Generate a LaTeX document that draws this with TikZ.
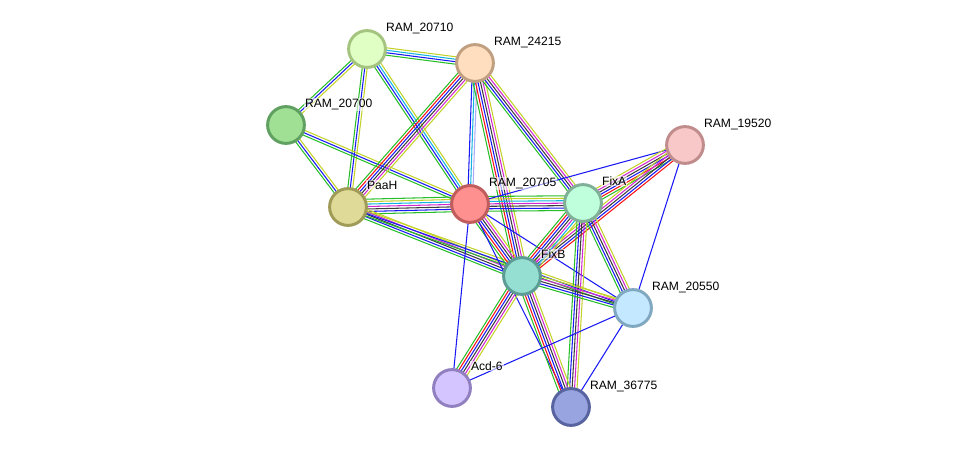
\documentclass[tikz,border=0pt]{standalone}
\usepackage{fontspec}
\setmainfont{Liberation Sans}
\usetikzlibrary{calc, backgrounds}
% evidence channels
\definecolor{evGreen}{RGB}{40, 190, 40}
\definecolor{evRed}{RGB}{250, 20, 20}
\definecolor{evBlue}{RGB}{25, 25, 245}
\definecolor{evBlack}{RGB}{60, 60, 60}
\definecolor{evMagenta}{RGB}{210, 40, 210}
\definecolor{evCyan}{RGB}{20, 180, 225}
\definecolor{evYellow}{RGB}{195, 210, 40}
\definecolor{evLilac}{RGB}{170, 170, 250}
% proteins
\definecolor{fA}{RGB}{224, 255, 196}\definecolor{bA}{RGB}{164, 196, 128}
\definecolor{fB}{RGB}{255, 222, 192}\definecolor{bB}{RGB}{192, 160, 128}
\definecolor{fC}{RGB}{160, 224, 148}\definecolor{bC}{RGB}{96, 160, 96}
\definecolor{fD}{RGB}{224, 218, 152}\definecolor{bD}{RGB}{160, 156, 88}
\definecolor{fE}{RGB}{255, 144, 144}\definecolor{bE}{RGB}{192, 92, 92}
\definecolor{fF}{RGB}{192, 255, 220}\definecolor{bF}{RGB}{128, 176, 152}
\definecolor{fG}{RGB}{248, 200, 200}\definecolor{bG}{RGB}{192, 140, 140}
\definecolor{fH}{RGB}{148, 222, 210}\definecolor{bH}{RGB}{92, 156, 148}
\definecolor{fI}{RGB}{196, 232, 255}\definecolor{bI}{RGB}{128, 168, 192}
\definecolor{fJ}{RGB}{212, 196, 255}\definecolor{bJ}{RGB}{144, 128, 192}
\definecolor{fK}{RGB}{152, 164, 224}\definecolor{bK}{RGB}{88, 100, 160}

\def\gap{1.75}
% parallel coloured lines between two proteins
\newcommand{\linkset}[3]{%
  \foreach \col [count=\n] in {#3} {\global\let\nlinks\n}
  \foreach \col [count=\i] in {#3} {
    \pgfmathsetmacro{\off}{(\i-(\nlinks+1)/2)*\gap}
    \draw[link, \col] ($(#1.center)!\off pt!90:(#2.center)$) -- ($(#2.center)!\off pt!-90:(#1.center)$);
  }%
}

\begin{document}
\begin{tikzpicture}[
    x=0.025cm, y=-0.025cm,
    prot/.style={circle, draw, line width=2.1pt, minimum size=0.92cm, inner sep=0pt},
    lbl/.style={anchor=base west, inner sep=0.6pt, font=\fontsize{8.6}{10}\selectfont, fill=white, fill opacity=0.6, text opacity=1},
    link/.style={line width=0.75pt}
]
    \useasboundingbox (0,0) rectangle (975,453);

    % Proteins
    \node[prot, fill=fA, draw=bA] (r20710) at (367,49) {};
    \node[prot, fill=fB, draw=bB] (r24215) at (475,63) {};
    \node[prot, fill=fC, draw=bC] (r20700) at (286,125) {};
    \node[prot, fill=fD, draw=bD] (paaH) at (348,207) {};
    \node[prot, fill=fE, draw=bE] (r20705) at (470,204) {};
    \node[prot, fill=fF, draw=bF] (fixA) at (583,203) {};
    \node[prot, fill=fG, draw=bG] (r19520) at (685,145) {};
    \node[prot, fill=fH, draw=bH] (fixB) at (522,276) {};
    \node[prot, fill=fI, draw=bI] (r20550) at (633,308) {};
    \node[prot, fill=fJ, draw=bJ] (acd6) at (452,388) {};
    \node[prot, fill=fK, draw=bK] (r36775) at (571,407) {};

    % Labels
    \node[lbl] (l20710) at ($(r20710)+(18,-17.5)$) {RAM\_20710};
    \node[lbl] (l24215) at ($(r24215)+(18,-17.5)$) {RAM\_24215};
    \node[lbl] (l20700) at ($(r20700)+(18,-17.5)$) {RAM\_20700};
    \node[lbl] (lpaaH) at ($(paaH)+(18,-17.5)$) {PaaH};
    \node[lbl] (l20705) at ($(r20705)+(18,-17.5)$) {RAM\_20705};
    \node[lbl] (lfixA) at ($(fixA)+(18,-17.5)$) {FixA};
    \node[lbl] (l19520) at ($(r19520)+(18,-17.5)$) {RAM\_19520};
    \node[lbl] (lfixB) at ($(fixB)+(18,-17.5)$) {FixB};
    \node[lbl] (l20550) at ($(r20550)+(18,-17.5)$) {RAM\_20550};
    \node[lbl] (lacd6) at ($(acd6)+(18,-17.5)$) {Acd-6};
    \node[lbl] (l36775) at ($(r36775)+(18,-17.5)$) {RAM\_36775};

    % Interactions
    \begin{scope}[on background layer]
    \linkset{r20710}{r24215}{evGreen,evBlue,evCyan,evYellow}
    \linkset{r20710}{r20700}{evGreen,evBlue,evYellow}
    \linkset{r20710}{paaH}{evGreen,evBlue,evYellow}
    \linkset{r20710}{r20705}{evGreen,evBlue,evCyan,evYellow}
    \linkset{r20700}{paaH}{evGreen,evBlue,evYellow}
    \linkset{r20700}{r20705}{evGreen,evBlue,evYellow}
    \linkset{r24215}{paaH}{evGreen,evRed,evBlue,evBlack,evMagenta,evYellow}
    \linkset{r24215}{r20705}{evBlue,evCyan,evLilac}
    \linkset{r24215}{fixB}{evGreen,evRed,evBlue,evBlack,evMagenta,evYellow}
    \linkset{r24215}{fixA}{evGreen,evBlue,evBlack,evMagenta,evYellow}
    \linkset{paaH}{r20705}{evGreen,evBlue,evBlack,evMagenta,evCyan,evYellow,evGreen}
    \linkset{paaH}{fixB}{evGreen,evBlue,evBlack,evMagenta,evYellow}
    \linkset{paaH}{r20550}{evGreen,evBlue,evYellow}
    \linkset{r20705}{fixA}{evGreen,evBlue,evBlack,evMagenta,evCyan,evYellow,evGreen}
    \linkset{r20705}{fixB}{evGreen,evRed,evBlue,evBlack,evMagenta,evYellow}
    \linkset{r20705}{r19520}{evBlue}
    \linkset{r20705}{acd6}{evBlue}
    \linkset{r20705}{r20550}{evBlue}
    \linkset{r20705}{r36775}{evBlue}
    \linkset{fixA}{r19520}{evGreen,evRed,evBlue,evBlack,evMagenta,evYellow}
    \linkset{fixB}{r19520}{evRed,evBlue,evBlack,evMagenta,evYellow}
    \linkset{fixA}{fixB}{evGreen,evRed,evBlue,evBlack,evMagenta,evCyan,evYellow}
    \linkset{fixA}{r20550}{evGreen,evBlue,evBlack,evMagenta,evYellow}
    \linkset{fixA}{r36775}{evGreen,evBlue,evBlack,evMagenta,evYellow}
    \linkset{fixB}{r20550}{evGreen,evBlue,evBlack,evMagenta,evYellow}
    \linkset{fixB}{acd6}{evGreen,evRed,evBlue,evBlack,evMagenta,evYellow}
    \linkset{fixB}{r36775}{evGreen,evRed,evBlue,evBlack,evMagenta,evYellow}
    \linkset{r19520}{r20550}{evBlue}
    \linkset{r20550}{acd6}{evBlue}
    \linkset{r20550}{r36775}{evBlue}
    \end{scope}

\end{tikzpicture}
\end{document}
